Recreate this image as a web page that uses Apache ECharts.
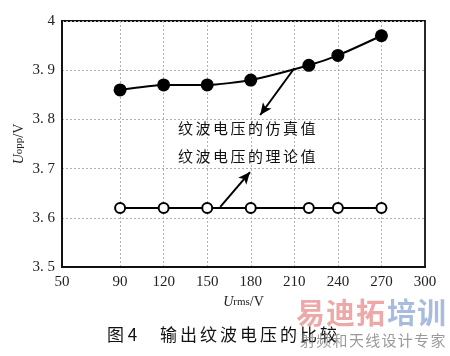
<!DOCTYPE html>
<html><head><meta charset="utf-8">
<script src="https://cdn.jsdelivr.net/npm/echarts@6/dist/echarts.min.js"></script>
<style>html,body{margin:0;padding:0;background:#fff}#c{width:450px;height:356px}</style>
</head><body><div id="c"></div>
<script>
const xValues = [90, 120, 150, 180, 220, 240, 270];
const simValues = [3.86, 3.87, 3.87, 3.88, 3.91, 3.93, 3.97];
const theoryValues = [3.62, 3.62, 3.62, 3.62, 3.62, 3.62, 3.62];
const xTicks = [50, 90, 120, 150, 180, 210, 240, 270, 300];
const yTicks = [3.5, 3.6, 3.7, 3.8, 3.9, 4.0];
const yTickLabels = ['3. 5', '3. 6', '3. 7', '3. 8', '3. 9', '4'];
const simLabel = '纹波电压的仿真值';
const theoryLabel = '纹波电压的理论值';
const captionNum = '图 4';
const captionText = '输出纹波电压的比较';
const simArrow = [[210, 3.904], [186.5, 3.809]];
const theoryArrow = [[159, 3.622], [179.5, 3.693]];

const serif = '"Liberation Serif","DejaVu Serif",serif';
const cjk = '"Noto Sans CJK SC",sans-serif';

function spaced(text, left, top, step, font, fill, z) {
  return Array.from(text).map((ch, i) => ({
    type: 'text', left: left + i * step, top: top, z: z || 1,
    style: { text: ch, font: font, fill: fill }
  }));
}

const chart = echarts.init(document.getElementById('c'));
chart.setOption({
  animation: false,
  backgroundColor: '#fff',
  grid: { left: 62, right: 25, top: 21, bottom: 89, show: true, borderColor: '#111', borderWidth: 1.8 },
  xAxis: {
    type: 'value', min: 50, max: 300,
    axisLine: { show: true, lineStyle: { color: '#111', width: 2 } },
    axisTick: { show: false, customValues: xTicks.slice(1, -1) },
    axisLabel: { customValues: xTicks, color: '#222', fontFamily: serif, fontSize: 15, margin: 8 },
    splitLine: { show: true, lineStyle: { color: '#b0b0b0', width: 1, type: [2, 2] } },
    name: '{u|U}{s|rms}{v|/V}', nameLocation: 'middle', nameGap: 26,
    nameTextStyle: { rich: {
      u: { fontFamily: serif, fontStyle: 'italic', fontSize: 14, color: '#222' },
      s: { fontFamily: serif, fontSize: 11, color: '#222' },
      v: { fontFamily: serif, fontSize: 14, color: '#222' } } }
  },
  yAxis: {
    type: 'value', min: 3.5, max: 4.0, interval: 0.1,
    axisLine: { show: true, lineStyle: { color: '#111', width: 2 } },
    axisTick: { show: false },
    axisLabel: { color: '#222', fontFamily: serif, fontSize: 15, margin: 7,
      formatter: v => { const i = yTicks.findIndex(t => Math.abs(t - v) < 1e-6); return i >= 0 ? yTickLabels[i] : ''; } },
    splitLine: { show: true, lineStyle: { color: '#b0b0b0', width: 1, type: [2, 2] } },
    name: '{u|U}{s|opp}{v|/V}', nameLocation: 'middle', nameGap: 36, nameRotate: 90, nameMoveOverlap: false,
    nameTextStyle: { rich: {
      u: { fontFamily: serif, fontStyle: 'italic', fontSize: 14, color: '#222' },
      s: { fontFamily: serif, fontSize: 11, color: '#222' },
      v: { fontFamily: serif, fontSize: 14, color: '#222' } } }
  },
  series: [
    { name: simLabel, type: 'line', data: xValues.map((x, i) => [x, simValues[i]]),
      symbol: 'circle', symbolSize: 13, smooth: 0.2,
      lineStyle: { color: '#000', width: 2 }, itemStyle: { color: '#000' },
      markLine: { silent: true, symbol: ['none', 'arrow'], symbolSize: [8, 12], label: { show: false },
        lineStyle: { color: '#000', width: 2, type: 'solid' },
        data: [[{ coord: simArrow[0] }, { coord: simArrow[1] }]] } },
    { name: theoryLabel, type: 'line', data: xValues.map((x, i) => [x, theoryValues[i]]),
      symbol: 'circle', symbolSize: 10,
      lineStyle: { color: '#000', width: 2 }, itemStyle: { color: '#fff', borderColor: '#000', borderWidth: 2 },
      markLine: { silent: true, symbol: ['none', 'arrow'], symbolSize: [8, 12], label: { show: false },
        lineStyle: { color: '#000', width: 2, type: 'solid' },
        data: [[{ coord: theoryArrow[0] }, { coord: theoryArrow[1] }]] } }
  ],
  graphic: [].concat(
    spaced(simLabel, 178, 121, 17.5, '15px ' + cjk, '#111'),
    spaced(theoryLabel, 178, 149, 17.5, '15px ' + cjk, '#111'),
    [{ type: 'text', left: 107, top: 326, style: { text: captionNum, font: '17px ' + cjk, fill: '#111' } }],
    spaced(captionText, 160, 326, 20, '17px ' + cjk, '#111'),
    spaced('易迪拓', 296, 298, 30, 'bold 29px ' + cjk, 'rgba(226,110,110,0.6)', 10),
    spaced('培训', 387, 298, 30, 'bold 29px ' + cjk, 'rgba(110,145,200,0.6)', 10),
    spaced('射频和天线设计专家', 300, 333, 16.3, '15px ' + cjk, 'rgba(120,120,120,0.75)', 10)
  )
});
</script></body></html>
